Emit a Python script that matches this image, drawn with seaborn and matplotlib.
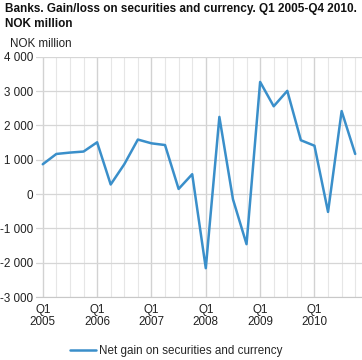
import matplotlib
matplotlib.use("Agg")
import matplotlib.pyplot as plt
import seaborn as sns
import pandas as pd

quarters = [f"Q{q} {y}" for y in range(2005, 2011) for q in range(1, 5)]
net_gain = [870, 1170, 1210, 1240, 1510, 280, 870, 1590,
            1480, 1430, 150, 580, -2160, 2250, -150, -1460,
            3270, 2560, 3010, 1570, 1410, -520, 2420, 1170]
year_labels = ["Q1\n2005", "Q1\n2006", "Q1\n2007", "Q1\n2008", "Q1\n2009", "Q1\n2010"]
y_ticks = [-3000, -2000, -1000, 0, 1000, 2000, 3000, 4000]

df = pd.DataFrame({"idx": range(len(quarters)), "quarter": quarters, "value": net_gain})

sns.set_style("white")
plt.rcParams["font.family"] = ["Liberation Sans", "DejaVu Sans"]

fig = plt.figure(figsize=(3.62, 3.60), dpi=100)
ax = fig.add_axes([0.0994, 0.175, 0.9006, 0.667])

# grid: every quarter light, Q1 a bit darker
for i in range(len(quarters)):
    ax.axvline(i, color="#d2d2d2" if i % 4 == 0 else "#e6e6e6", lw=1.0 if i % 4 == 0 else 0.8, zorder=0)
for v in y_ticks:
    ax.axhline(v, color="#d6d6d6", lw=0.9, zorder=0)

sns.lineplot(data=df, x="idx", y="value", ax=ax, color="#3a8fca", lw=1.8,
             label="Net gain on securities and currency")

ax.set_xlim(-0.5, len(quarters) - 0.5)
ax.set_ylim(-3000, 4000)
ax.set_xticks(range(0, len(quarters), 4))
ax.set_xticklabels(year_labels, fontsize=8.4, color="#222222", linespacing=1.05)
ax.set_yticks(y_ticks)
ax.set_yticklabels([f"{v:,}".replace(",", " ") for v in y_ticks], fontsize=8.4, color="#222222")
ax.tick_params(axis="x", length=0, pad=5)
ax.tick_params(axis="y", length=0, pad=2)
ax.set_xlabel("")
ax.set_ylabel("")
for s in ["top", "right", "left"]:
    ax.spines[s].set_visible(False)
ax.spines["bottom"].set_color("#c8c8c8")

fig.text(0.014, 0.992, "Banks. Gain/loss on securities and currency. Q1 2005-Q4 2010.\nNOK million",
         fontsize=8.5, fontweight="bold", va="top", ha="left", color="#111111", linespacing=1.4)
fig.text(0.028, 0.878, "NOK million", fontsize=8.4, va="center", ha="left", color="#222222")

ax.legend(loc="upper center", bbox_to_anchor=(0.43, -0.155), frameon=False,
          fontsize=8.4, handlelength=2.2, handletextpad=0.3)

fig.savefig("out.png", dpi=100)
